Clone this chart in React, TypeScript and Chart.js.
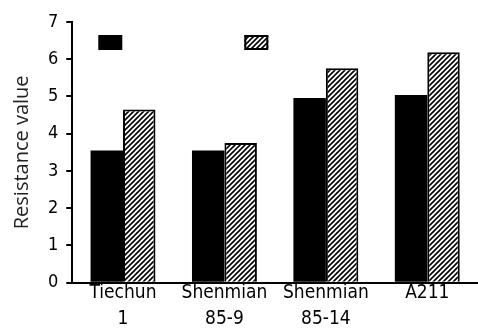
import React, { useEffect, useRef } from "react";
import { Chart, registerables } from "chart.js";

Chart.register(...registerables);

const categories: string[][] = [["Tiechun", "1"], ["Shenmian", "85-9"], ["Shenmian", "85-14"], ["A211"]];
const seriesBlack: number[] = [3.55, 3.55, 4.96, 5.04];
const seriesHatched: number[] = [4.65, 3.75, 5.76, 6.19];
const yTicks: number[] = [0, 1, 2, 3, 4, 5, 6, 7];

function makeHatch(): CanvasPattern | string {
  const c = document.createElement("canvas");
  const s = 5;
  c.width = s;
  c.height = s;
  const ctx = c.getContext("2d");
  if (!ctx) return "#888";
  ctx.fillStyle = "#fff";
  ctx.fillRect(0, 0, s, s);
  ctx.strokeStyle = "#000";
  ctx.lineWidth = 1.6;
  ctx.beginPath();
  ctx.moveTo(-1, s + 1);
  ctx.lineTo(s + 1, -1);
  ctx.moveTo(-1, 1);
  ctx.lineTo(1, -1);
  ctx.moveTo(s - 1, s + 1);
  ctx.lineTo(s + 1, s - 1);
  ctx.stroke();
  const p = ctx.createPattern(c, "repeat");
  return p || "#888";
}

const tickFont = "'Liberation Sans Narrow', 'DejaVu Sans Condensed', sans-serif";

export default function App() {
  const ref = useRef<HTMLCanvasElement | null>(null);
  useEffect(() => {
    if (!ref.current) return;
    const hatch = makeHatch();
    const legendPlugin = {
      id: "boxLegend",
      beforeDraw(chart: any) {
        const xs = chart.scales && chart.scales.x;
        if (xs) xs._computeLabelArea = () => undefined;
      },
      afterDraw(chart: any) {
        const { ctx, chartArea } = chart;
        ctx.save();
        const y = chartArea.top + 13;
        ctx.fillStyle = "#000";
        ctx.fillRect(chartArea.left + 26, y, 24, 15);
        ctx.fillStyle = hatch;
        ctx.fillRect(chartArea.left + 172, y, 24, 15);
        ctx.strokeStyle = "#000";
        ctx.lineWidth = 2;
        ctx.strokeRect(chartArea.left + 173, y + 1, 22, 13);
        ctx.restore();
      },
    };
    const chart = new Chart(ref.current, {
      type: "bar",
      data: {
        labels: categories,
        datasets: [
          {
            label: "A",
            data: seriesBlack,
            backgroundColor: "#000",
            borderColor: "#000",
            borderWidth: 0,
            categoryPercentage: 0.64,
            barPercentage: 1,
          },
          {
            label: "B",
            data: seriesHatched,
            backgroundColor: hatch as any,
            borderColor: "#000",
            borderWidth: 2,
            borderSkipped: "bottom",
            categoryPercentage: 0.64,
            barPercentage: 1,
          },
        ],
      },
      options: {
        animation: false,
        responsive: true,
        maintainAspectRatio: false,
        layout: { padding: { top: 22, right: 0, bottom: 8, left: 10 } },
        plugins: { legend: { display: false }, tooltip: { enabled: false } },
        scales: {
          x: {
            grid: { display: false },
            border: { display: true, color: "#000", width: 2 },
            ticks: {
              color: "#000",
              maxRotation: 0,
              autoSkip: false,
              padding: -10,
              font: { family: tickFont, size: 19, lineHeight: 1.35 },
            },
          },
          y: {
            min: 0,
            max: 7,
            afterBuildTicks: (axis: any) => {
              axis.ticks = yTicks.map((v) => ({ value: v }));
            },
            grid: { drawOnChartArea: false, drawTicks: true, tickLength: 6, color: "#000", lineWidth: 2 },
            border: { display: true, color: "#000", width: 2 },
            ticks: {
              color: "#000",
              padding: 8,
              font: { family: tickFont, size: 18 },
            },
            title: {
              display: true,
              text: "Resistance value",
              color: "#222",
              padding: { top: 0, bottom: 6 },
              font: { family: "'Open Sans', 'Noto Sans', sans-serif", size: 20 },
            },
          },
        },
      },
      plugins: [legendPlugin],
    });
    return () => chart.destroy();
  }, []);
  return (
    <div style={{ position: "absolute", left: 0, top: 0, width: 478, height: 330, background: "#fff" }}>
      <canvas ref={ref} />
    </div>
  );
}
